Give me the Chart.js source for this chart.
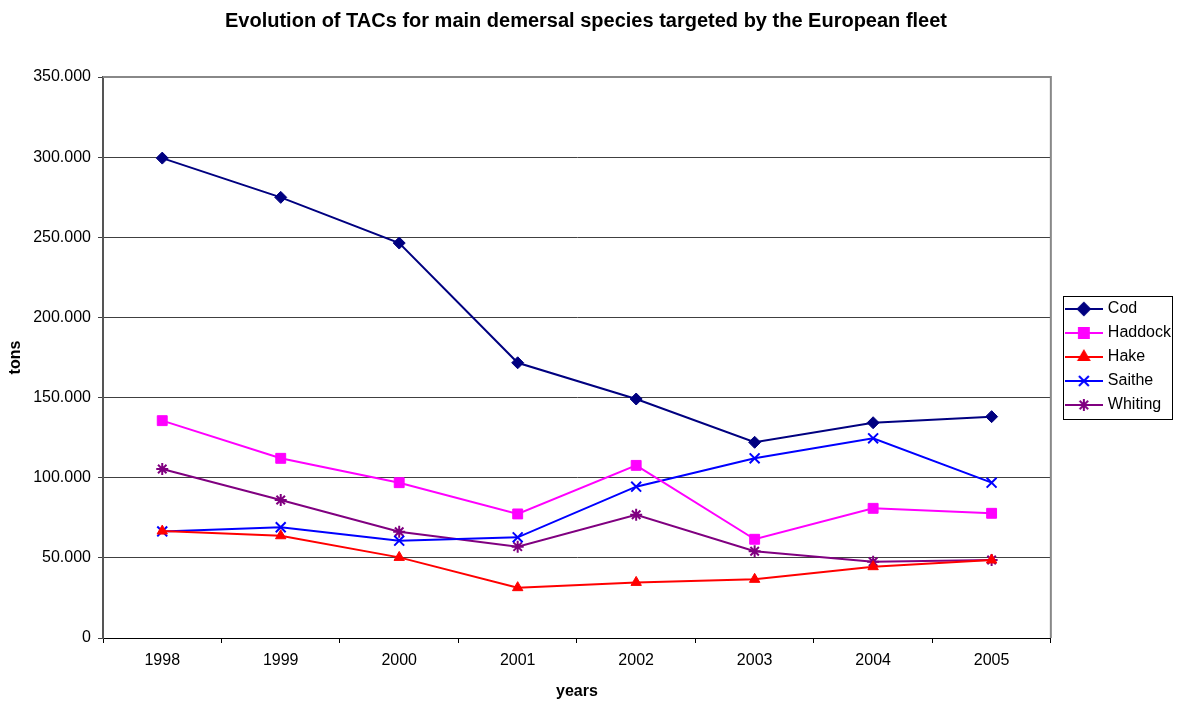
<!DOCTYPE html>
<html>
<head>
<meta charset="utf-8">
<script src="https://cdn.jsdelivr.net/npm/chart.js@4/dist/chart.umd.min.js"></script>
<style>
  html, body { margin: 0; padding: 0; background: #fff; }
  #wrap { width: 1182px; height: 702px; }
</style>
</head>
<body>
<div id="wrap"><canvas id="Main" width="1182" height="702"></canvas></div>
<script>
// data (tons)
var years = ['1998', '1999', '2000', '2001', '2002', '2003', '2004', '2005'];
var cod = [299400, 274900, 246400, 171700, 149100, 122100, 134300, 138100];
var haddock = [135600, 112100, 96900, 77400, 107700, 61600, 80900, 77800];
var hake = [66700, 63800, 50300, 31400, 34700, 36600, 44500, 48700];
var saithe = [66500, 69100, 60700, 62800, 94400, 112100, 124600, 96900];
var whiting = [105400, 86100, 66300, 57000, 76900, 54100, 47600, 48700];
var yTicks = [0, 50000, 100000, 150000, 200000, 250000, 300000, 350000];

var font = 'Arial, "Liberation Sans", sans-serif';

function series(label, data, color, style, radius) {
  return {
    label: label,
    data: data,
    borderColor: color,
    backgroundColor: color,
    borderWidth: 2,
    pointStyle: style,
    pointRadius: radius,
    pointHoverRadius: radius,
    pointBorderWidth: (style == 'crossRot' || style == 'star') ? 2 : 1,
    tension: 0,
    fill: false
  };
}

// little line + marker picture for each legend entry
function legendPic(ds) {
  var c = document.createElement('canvas');
  c.width = 38; c.height = 16;
  var g = c.getContext('2d');
  g.strokeStyle = ds.borderColor;
  g.fillStyle = ds.borderColor;
  g.lineWidth = 2;
  g.beginPath(); g.moveTo(0, 8); g.lineTo(38, 8); g.stroke();
  Chart.helpers.drawPoint(g, {pointStyle: ds.pointStyle, radius: ds.pointRadius, borderWidth: ds.pointBorderWidth, rotation: 0}, 19, 8);
  return c;
}

var frame = {
  id: 'frame',
  afterLayout: function (chart) {
    var lg = chart.legend;
    lg.left += 9; lg.right += 9;
    lg.top += 6; lg.bottom += 6;
  },
  afterDatasetsDraw: function (chart) {
    var ctx = chart.ctx, a = chart.chartArea;
    ctx.save();
    ctx.strokeStyle = '#888';
    ctx.lineWidth = 2;
    ctx.beginPath();
    ctx.moveTo(a.left, a.top); ctx.lineTo(a.right, a.top); ctx.lineTo(a.right, a.bottom);
    ctx.stroke();
    ctx.restore();
  },
  afterDraw: function (chart) {
    var hb = chart.legend.legendHitBoxes;
    if (!hb || !hb.length) return;
    var ctx = chart.ctx;
    var right = 0;
    hb.forEach(function (h) { right = Math.max(right, h.left + h.width); });
    var x0 = hb[0].left - 5, y0 = hb[0].top - 5.5;
    var y1 = hb[hb.length - 1].top + hb[hb.length - 1].height + 5.5;
    ctx.save();
    ctx.strokeStyle = '#000';
    ctx.lineWidth = 1;
    ctx.strokeRect(Math.round(x0) + 0.5, Math.round(y0) + 0.5, Math.round(right + 1 - x0), Math.round(y1 - y0));
    ctx.restore();
  }
};

window.addEventListener('load', function () {
  var ctx = document.getElementById('Main');
  new Chart(ctx, {
    type: 'line',
    data: {
      labels: years,
      datasets: [
        series('Cod', cod, '#000080', 'rectRot', 6),
        series('Haddock', haddock, '#FF00FF', 'rect', 7),
        series('Hake', hake, '#FF0000', 'triangle', 6),
        series('Saithe', saithe, '#0000FF', 'crossRot', 7),
        series('Whiting', whiting, '#800080', 'star', 6)
      ]
    },
    options: {
      responsive: false,
      animation: false,
      devicePixelRatio: 1,
      layout: { padding: { right: 10 } },
      plugins: {
        tooltip: { enabled: false },
        title: {
          display: true,
          text: 'Evolution of TACs for main demersal species targeted by the European fleet',
          color: '#000',
          font: { family: font, size: 20, weight: 'bold' },
          padding: { top: 9, bottom: 44 }
        },
        legend: {
          position: 'right',
          labels: {
            color: '#000',
            font: { family: font, size: 16 },
            usePointStyle: true,
            pointStyleWidth: 32,
            padding: 8,
            generateLabels: function (chart) {
              return chart.data.datasets.map(function (ds, i) {
                return {
                  text: ds.label,
                  pointStyle: legendPic(ds),
                  fillStyle: ds.borderColor,
                  strokeStyle: ds.borderColor,
                  lineWidth: 0,
                  datasetIndex: i
                };
              });
            }
          }
        }
      },
      scales: {
        x: {
          offset: true,
          afterFit: function (s) { s.height = 64; },
          grid: { display: true, drawOnChartArea: false, drawTicks: true, tickLength: 5, offset: true, color: '#000' },
          border: { color: '#000', width: 1 },
          ticks: { color: '#000', font: { family: font, size: 16 }, padding: 8, maxRotation: 0 },
          title: { display: true, text: 'years', color: '#000', font: { family: font, size: 16, weight: 'bold' }, padding: { top: 0, bottom: 1 } }
        },
        y: {
          min: 0,
          max: 350000,
          afterFit: function (s) { s.width = 103; },
          afterBuildTicks: function (s) { s.ticks = yTicks.map(function (v) { return { value: v }; }); },
          grid: { color: '#404040', lineWidth: 1, tickLength: 5 },
          border: { color: '#555', width: 2 },
          ticks: {
            color: '#000',
            font: { family: font, size: 16 },
            padding: 7,
            callback: function (v) { return v == 0 ? '0' : v.toLocaleString('de-DE'); }
          },
          title: { display: true, text: 'tons', color: '#000', font: { family: font, size: 16, weight: 'bold' }, padding: { top: 6, bottom: 0 } }
        }
      }
    },
    plugins: [frame]
  });
});
</script>
</body>
</html>
